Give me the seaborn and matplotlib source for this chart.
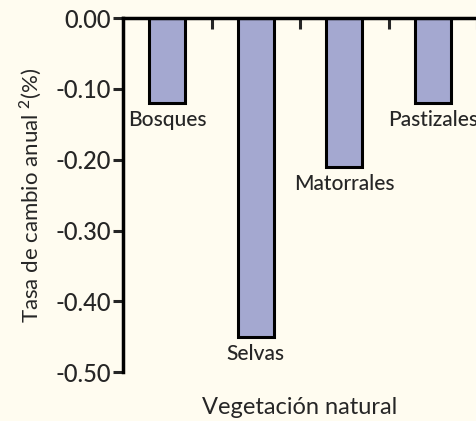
import matplotlib
matplotlib.use("Agg")
import matplotlib.pyplot as plt
import seaborn as sns
import pandas as pd
import numpy as np

categories = ["Bosques", "Selvas", "Matorrales", "Pastizales"]
rates = [-0.12, -0.45, -0.21, -0.12]
yticks = [0.0, -0.1, -0.2, -0.3, -0.4, -0.5]

sns.set_style("white")
plt.rcParams["font.family"] = ["Lato", "DejaVu Sans"]
plt.rcParams["font.weight"] = "medium"
plt.rcParams["axes.unicode_minus"] = False
plt.rcParams["mathtext.fontset"] = "custom"
plt.rcParams["mathtext.rm"] = "Lato"

bg = "#fffcf0"
df = pd.DataFrame({"Vegetacion": categories, "Tasa": rates})

fig = plt.figure(figsize=(4.77, 4.21), dpi=100, facecolor=bg)
ax = fig.add_axes([0.258, 0.116, 0.742, 0.841])
ax.set_facecolor(bg)

sns.barplot(data=df, x="Vegetacion", y="Tasa", color="#a4a8d0", saturation=1,
            width=0.41, edgecolor="black", linewidth=2.2, ax=ax)

ax.bar_label(ax.containers[0], labels=categories, padding=5, fontsize=15)

ax.set_ylim(-0.5, 0)
ax.set_xlim(-0.5, 3.5)
ax.set_yticks(yticks)
ax.set_yticklabels([f"{v:.2f}" for v in yticks], fontsize=17)

ax.xaxis.tick_top()
ax.set_xticks([0.5, 1.5, 2.5, 3.5])
ax.set_xticklabels([])
ax.tick_params(axis="x", direction="in", length=8, width=2.2, top=True, bottom=False)
ax.tick_params(axis="y", direction="out", length=7, width=2.2, left=True, pad=2)

for s in ["bottom", "right"]:
    ax.spines[s].set_visible(False)
for s in ["top", "left"]:
    ax.spines[s].set_linewidth(2.5)
    ax.spines[s].set_color("black")

ax.set_xlabel("Vegetación natural", fontsize=17, labelpad=18)
ax.xaxis.set_label_position("bottom")
ax.set_ylabel(r"Tasa de cambio anual $^{2}$(%)", fontsize=16, labelpad=8)

fig.savefig("out.png", dpi=100, facecolor=bg)
